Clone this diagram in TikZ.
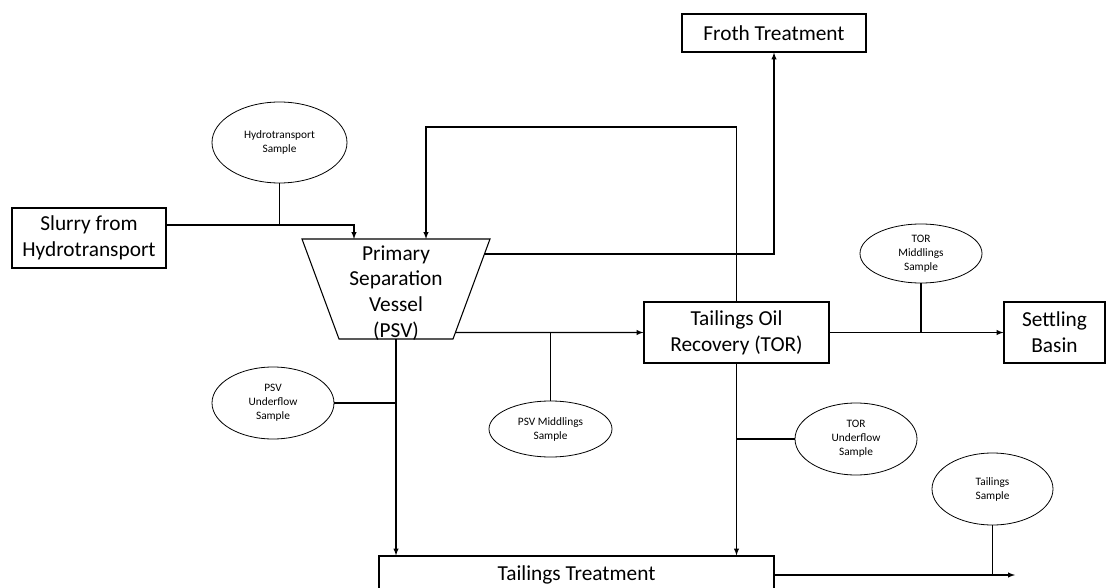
\documentclass[tikz,border=0pt]{standalone}
\usepackage{fontspec}
\setmainfont{Carlito}
\usetikzlibrary{calc, positioning, shapes.geometric}

\tikzset{
	unitbox/.style={draw, line width=0.8pt, align=center, inner sep=0pt,
		font=\fontsize{16}{19.5}\selectfont},
	samplenode/.style={draw, ellipse, line width=0.6pt, align=center, inner sep=0pt,
		font=\fontsize{8.5}{10.5}\selectfont},
	flow/.style={line width=0.8pt}
}

\begin{document}
\begin{tikzpicture}[>=latex, x=0.75pt, y=-0.75pt]
	\useasboundingbox (0,0) rectangle (1106,588);
	\clip (0,0) rectangle (1106,588);
	% units
	\node[unitbox, minimum width=115.5pt, minimum height=45pt] (slurry) at (89,238) {Slurry from\\Hydrotransport};
	\node[unitbox, minimum width=138pt, minimum height=28.5pt] (froth) at (774,33) {Froth Treatment};
	\node[unitbox, minimum width=138.75pt, minimum height=45.75pt] (tor) at (736.5,332.5) {Tailings Oil\\Recovery (TOR)};
	\node[unitbox, minimum width=75.75pt, minimum height=45.75pt] (settle) at (1054.5,332.5) {Settling\\Basin};
	\node[unitbox, minimum width=296.25pt, minimum height=28.5pt] (tt) at (576.5,575) {Tailings Treatment};
	% primary separation vessel
	\coordinate (psvTL) at (302,239);
	\coordinate (psvTR) at (490,239);
	\coordinate (psvBR) at (453,339);
	\coordinate (psvBL) at (339,339);
	\draw[line width=0.8pt] (psvTL)--(psvTR)--(psvBR)--(psvBL)--cycle;
	\node[align=center, font=\fontsize{16}{19.3}\selectfont] (psv) at (396,293) {Primary\\Separation\\Vessel\\(PSV)};
	% samples
	\node[samplenode, minimum width=101.25pt, minimum height=60.75pt] (hydro) at (279.5,142.5) {Hydrotransport\\Sample};
	\node[samplenode, minimum width=92.25pt, minimum height=42pt] (psvmid) at (550.5,429) {PSV Middlings\\Sample};
	\node[samplenode, minimum width=91.5pt, minimum height=54pt] (psvund) at (273,403) {PSV\\Underflow\\Sample};
	\node[samplenode, minimum width=91.5pt, minimum height=54pt] (torund) at (856,439) {TOR\\Underflow\\Sample};
	\node[samplenode, minimum width=91.5pt, minimum height=44.25pt] (tormid) at (921,253.5) {TOR\\Middlings\\Sample};
	\node[samplenode, minimum width=90.75pt, minimum height=54pt] (tailsamp) at (992.5,489) {Tailings\\Sample};
	% stream points
	\coordinate (feedIn) at (354,239);
	\coordinate (hydroJ) at (279.5,225);
	\coordinate (recycleIn) at (426,239);
	\coordinate (loopTop) at (736.5,127);
	\coordinate (frothOut) at ($(psvTR)!0.15!(psvBR)$);
	\coordinate (midOut) at ($(psvTR)!0.935!(psvBR)$);
	\coordinate (psvOut) at (396,339);
	\coordinate (ttOut) at (1015,575);
	% streams
	\draw [flow,->]([yshift=9.75pt]slurry.east)--(hydroJ)-|(feedIn);
	\draw [flow](hydro)--(hydroJ);
	\draw [flow,->](tor.north)--(loopTop)-|(recycleIn);
	\draw [flow,->](frothOut)-|(froth.south);
	\draw [flow,->](midOut)--(tor.west);
	\draw [flow](psvmid)--(psvmid|-tor.west);
	\draw [flow,->](psvOut)--(psvOut|-tt.north);
	\draw [flow](psvund)--(psvund-|psvOut);
	\draw [flow,->](tor.south)--(tor.south|-tt.north);
	\draw [flow](torund)--(torund-|tor.south);
	\draw [flow,->](tor.east)--(settle.west);
	\draw [flow](tormid)--(tormid|-tor.east);
	\draw [flow,->](tt.east)--(ttOut);
	\draw [flow](tailsamp)--(tailsamp|-tt.east);
\end{tikzpicture}
\end{document}
